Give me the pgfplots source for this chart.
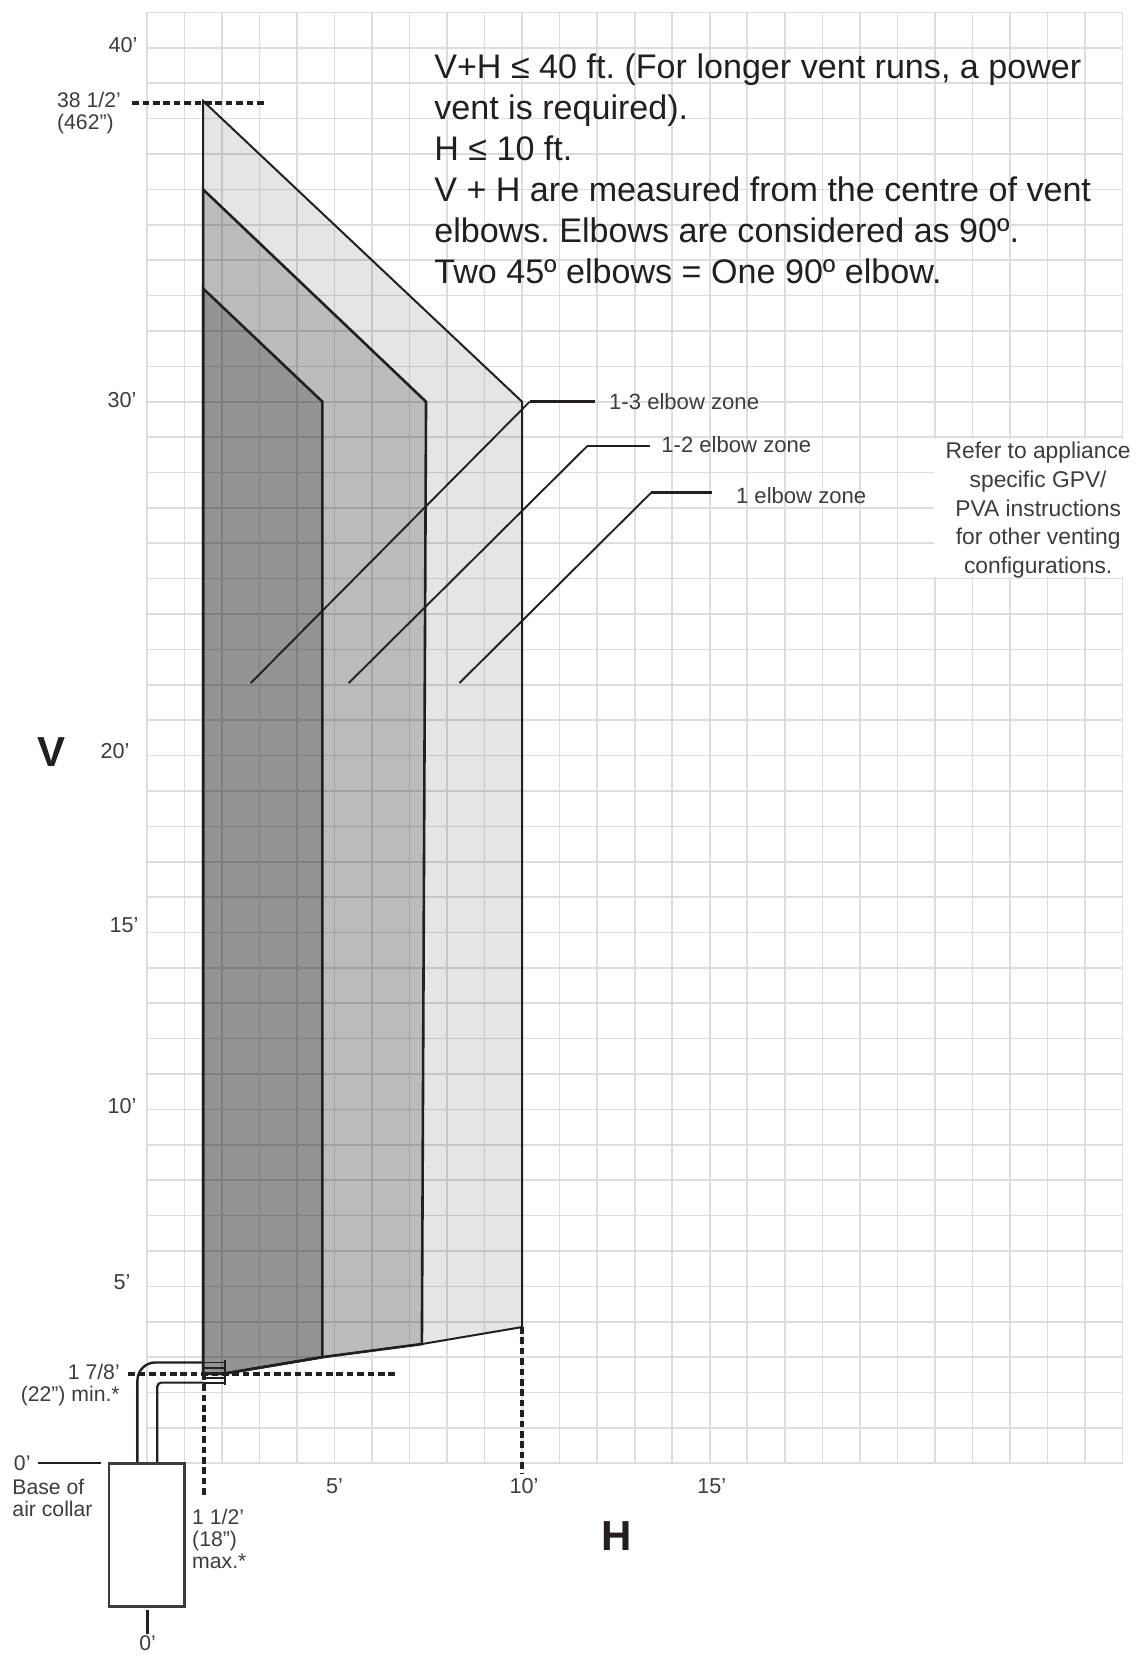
\documentclass[border=0pt]{standalone}
\usepackage{fontspec}
\setmainfont{Liberation Sans}
\usepackage{pgfplots}
\pgfplotsset{compat=1.18}
\definecolor{ink}{HTML}{231F20}
\definecolor{soft}{HTML}{3C3C3C}
\definecolor{gridc}{HTML}{DCDDDE}
\frenchspacing
% tick label: raise, gap on the right, text
\newcommand{\Tl}[3]{\raisebox{#1}[.75em][.25em]{#3}\hspace*{#2}}
\tikzset{
  small/.style={font=\fontsize{10.6}{11}\selectfont,text=soft,inner sep=0pt},
  zonelabel/.style={font=\fontsize{11.05}{12}\selectfont,text=soft,inner sep=0pt},
  limitline/.style={ink,line width=1.9pt,dash pattern=on 3.3pt off 1.9pt},
  zone/.style={fill=black,draw=ink},
}
\begin{document}
\begin{tikzpicture}
\path[use as bounding box] (0,0) rectangle (568pt,828pt);
\begin{axis}[
  at={(73.4pt,96.35pt)}, anchor=south west,
  scale only axis, width=487.9pt, height=725.4pt,
  xmin=0, xmax=26, ymin=0, ymax=41,
  clip=false,
  axis line style={gridc,line width=.8pt},
  xtick={5,10,15}, xticklabels={5’,\hspace*{2pt}10’,\hspace*{2pt}15’},
  ytick={5,10,15,20,30,40},
  yticklabels={\Tl{2.2pt}{3.5pt}{5’},\Tl{1.5pt}{.5pt}{10’},\Tl{3.5pt}{-.5pt}{15’},\Tl{2pt}{4pt}{20’},\Tl{1pt}{.5pt}{30’},\Tl{1.3pt}{0pt}{40’}},
  minor xtick={0,...,26}, minor ytick={0,...,41},
  grid=both,
  major grid style={gridc,line width=.8pt},
  minor grid style={gridc,line width=.8pt},
  major tick length=0pt, minor tick length=0pt,
  tick label style={font=\fontsize{10.8}{12}\selectfont,text=soft,inner sep=0pt},
  xticklabel style={yshift=-7.5pt},
  yticklabel style={xshift=-4.5pt,yshift=-1pt},
]
% white patch behind the note
\fill[white] (axis cs:20.98,25.05) rectangle (axis cs:27,28.95);

% elbow zones, nested, each darkens what is under it
\addplot[zone,line width=1pt,fill opacity=.1] coordinates {(1.5,38.5) (10,30) (10,3.85) (7.33,3.37) (4.68,3.0) (2.04,2.53) (1.5,2.53)} -- cycle;
\addplot[zone,line width=1.3pt,fill opacity=.18] coordinates {(1.5,36) (7.44,30) (7.33,3.37) (4.68,3.0) (2.04,2.53) (1.5,2.53)} -- cycle;
\addplot[zone,line width=1.3pt,fill opacity=.21] coordinates {(1.5,33.2) (4.68,30) (4.68,3.0) (2.04,2.53) (1.5,2.53)} -- cycle;

% dashed limits
\addplot[limitline] coordinates {(-0.39,38.45) (3.14,38.45)};
\addplot[limitline] coordinates {(-0.49,2.53) (6.69,2.53)};
\addplot[limitline] coordinates {(1.52,2.53) (1.52,-0.98)};
\addplot[limitline] coordinates {(10,3.85) (10,-0.28)};

% vent pipe
\addplot[ink,line width=1.2pt,rounded corners=9pt] coordinates {(-0.25,0) (-0.25,2.85) (1.5,2.85)};
\addplot[ink,line width=1.1pt,rounded corners=2pt] coordinates {(0.28,0) (0.28,2.28) (1.5,2.28)};
\addplot[ink,line width=.9pt] coordinates {(1.5,2.85) (2.08,2.85)};
\addplot[ink,line width=.9pt] coordinates {(1.5,2.69) (2.08,2.69)};
\addplot[ink,line width=.9pt] coordinates {(1.5,2.4) (2.08,2.4)};
\addplot[ink,line width=.9pt] coordinates {(1.5,2.28) (2.08,2.28)};
\addplot[ink,line width=1.3pt] coordinates {(2.08,2.91) (2.08,2.2)};

% appliance
\addplot[soft,line width=1.25pt] coordinates {(-1.01,0) (1.01,0) (1.01,-4.05) (-1.01,-4.05)} -- cycle;
\addplot[ink,line width=1.2pt] coordinates {(-2.9,0) (-1.22,0)};
\addplot[ink,line width=1.3pt] coordinates {(0.02,-4.15) (0.02,-4.83)};

% zone leaders
\addplot[ink,line width=.95pt] coordinates {(2.77,22.05) (10.2,30)};
\addplot[ink,line width=1.3pt] coordinates {(10.2,30) (11.94,30)};
\addplot[ink,line width=.95pt] coordinates {(5.38,22.05) (11.74,28.75)};
\addplot[ink,line width=1.3pt] coordinates {(11.74,28.75) (13.41,28.75)};
\addplot[ink,line width=.95pt] coordinates {(8.33,22.05) (13.44,27.43)};
\addplot[ink,line width=1.3pt] coordinates {(13.44,27.43) (15.06,27.43)};

% text
\node[anchor=north west,inner sep=0pt,align=left,text=ink,font=\fontsize{17.05}{20.5}\selectfont]
  at (axis cs:7.65,39.85) {V+H ≤ 40 ft. (For longer vent runs, a power\\vent is required).\\H ≤ 10 ft.\\V + H are measured from the centre of vent\\elbows. Elbows are considered as 90º.\\Two 45º elbows = One 90º elbow.};
\node[zonelabel,anchor=west] at (axis cs:12.31,30.0) {1-3 elbow zone};
\node[zonelabel,anchor=west] at (axis cs:13.7,28.79) {1-2 elbow zone};
\node[zonelabel,anchor=west] at (axis cs:15.69,27.36) {1 elbow zone};
\node[inner sep=0pt,text=soft,align=center,font=\fontsize{11.4}{14.35}\selectfont] at (axis cs:23.75,26.93)
  {Refer to appliance\\specific GPV/\\PVA instructions\\for other venting\\configurations.};
\node[small,anchor=west,align=left] at (axis cs:-2.4,38.16) {38 1/2’\\(462”)};
\node[small,anchor=east,align=right] at (axis cs:-0.71,2.21) {1 7/8’\\(22”) min.*};
\node[small,anchor=west] at (axis cs:-3.55,0) {0’};
\node[small,anchor=north west,align=left] at (axis cs:-3.59,-0.44) {Base of\\air collar};
\node[small,anchor=north west,align=left] at (axis cs:1.2,-1.29) {1 1/2’\\(18”)\\max.*};
\node[small] at (axis cs:0.02,-5.08) {0’};
\node[anchor=center,inner sep=0pt,text=ink,font=\fontsize{21}{24}\selectfont\bfseries] at (axis cs:-2.53,20.1) {V};
\node[anchor=center,inner sep=0pt,text=ink,font=\fontsize{21}{24}\selectfont\bfseries] at (axis cs:12.53,-2.05) {H};
\end{axis}
\end{tikzpicture}
\end{document}
